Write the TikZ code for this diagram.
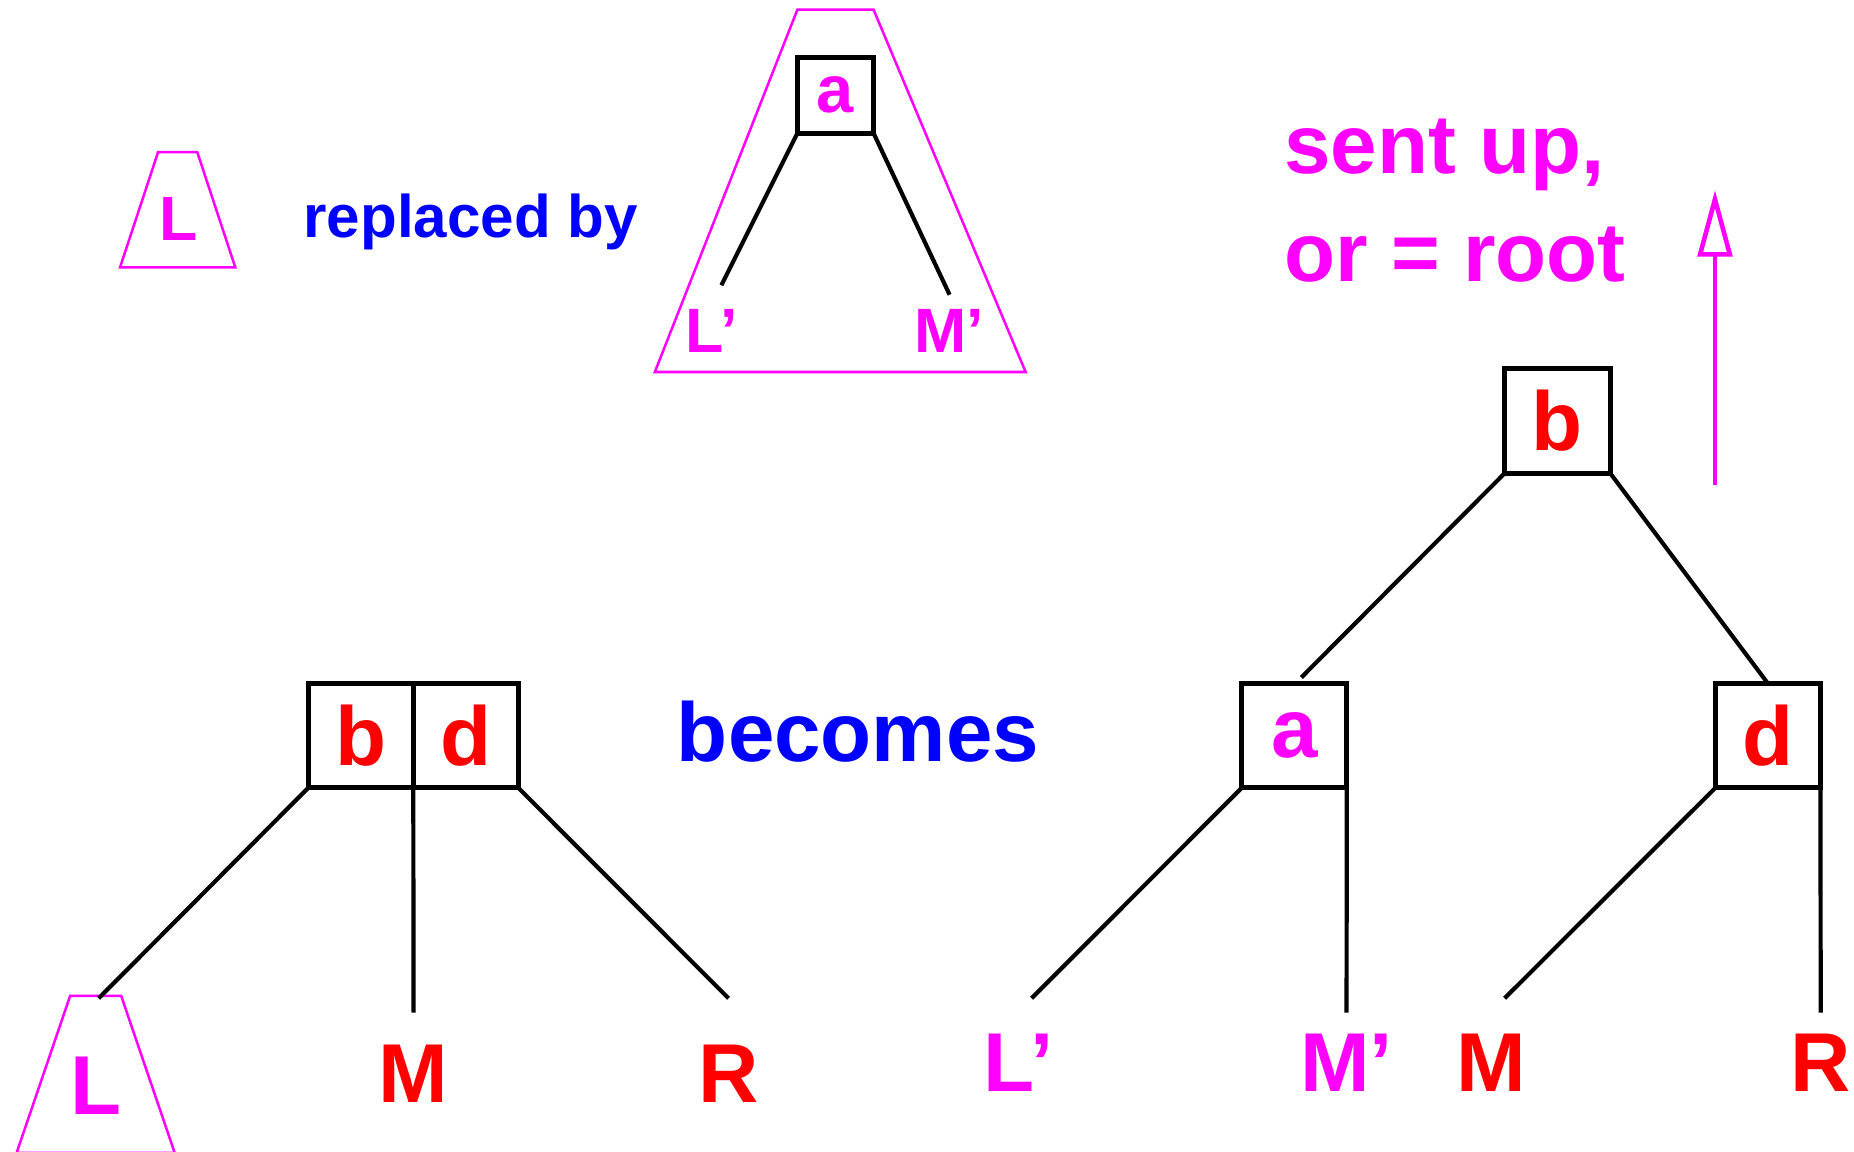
\documentclass[tikz,border=0pt]{standalone}
\usepackage{fontspec}
\setmainfont{Liberation Sans}
\usetikzlibrary{arrows.meta, positioning, calc}
\definecolor{mag}{RGB}{255,0,255}
\definecolor{keyred}{RGB}{255,0,0}
\definecolor{keyblue}{RGB}{0,0,255}

\begin{document}
\begin{tikzpicture}[
    x=0.1mm, y=-0.1mm,
    big/.style={font=\bfseries\fontsize{20}{24}\selectfont},
    key/.style={draw, line width=1.2pt, minimum width=0.885cm, minimum height=0.88cm, inner sep=0pt, outer sep=0pt, big},
    lbl/.style={inner sep=0pt, anchor=base, big},
    sml/.style={inner sep=0pt, anchor=base, text=mag, font=\bfseries\fontsize{15}{18}\selectfont},
    edge/.style={line width=1pt},
    subtree/.style={draw=mag, line width=0.6pt}
]
    \useasboundingbox (0,0) rectangle (1560,968.5);

    % Subtree L and its replacement
    \draw[subtree] (133,128) -- (166,128) -- (198,225) -- (101,225) -- cycle;
    \node[sml] (Ltop) at (150,202) {L};
    \node[inner sep=0pt, anchor=base, text=keyblue, font=\bfseries\fontsize{14.4}{17}\selectfont] (repl) at (396,200) {replaced by};

    \draw[subtree] (671,8) -- (735,8) -- (863,313) -- (551,313) -- cycle;
    \node[key, minimum width=0.64cm, minimum height=0.64cm, text=mag, font=\bfseries\fontsize{16}{19}\selectfont] (atop) at (703,80) {a};
    \node[sml] (Lptop) at (599,297) {L'};
    \node[sml] (Mptop) at (799,297) {M'};
    \coordinate (Lpend) at (607,240);
    \coordinate (Mpend) at (799,248);
    \draw[edge] (atop.south west) -- (Lpend);
    \draw[edge] (atop.south east) -- (Mpend);

    % Old node b|d
    \node[key, text=keyred] (b1) at (303.5,619) {b};
    \node[key, text=keyred, right=0pt of b1] (d1) {d};
    \draw[subtree] (59,838) -- (102,838) -- (147,970) -- (14,970) -- cycle;
    \node[lbl, text=mag] (Lbot) at (81,938) {L};
    \node[lbl, text=keyred] (M1) at (348,928) {M};
    \node[lbl, text=keyred] (R1) at (613,928) {R};
    \coordinate (L1end) at (83,840);
    \coordinate (M1end) at (348,852);
    \coordinate (R1end) at (613,840);
    \draw[edge] (b1.south west) -- (L1end);
    \draw[edge] (b1.south east) -- (M1end);
    \draw[edge] (d1.south east) -- (R1end);

    \node[lbl, text=keyblue] (becomes) at (722,641) {becomes};

    % New nodes after split
    \node[key, text=keyred] (b2) at (1310.5,354) {b};
    \node[key, text=mag] (a2) at (1089,619) {a};
    \node[key, text=keyred] (d2) at (1487.5,619) {d};
    \coordinate (baend) at (1095,570);
    \draw[edge] (b2.south west) -- (baend);
    \draw[edge] (b2.south east) -- (d2.north);

    \node[lbl, text=mag] (Lp2) at (857,918) {L'};
    \node[lbl, text=mag] (Mp2) at (1133,918) {M'};
    \node[lbl, text=keyred] (M2) at (1255,918) {M};
    \node[lbl, text=keyred] (R2) at (1532,918) {R};
    \coordinate (Lp2end) at (868,840);
    \coordinate (Mp2end) at (1133,852);
    \coordinate (M2end) at (1266,840);
    \coordinate (R2end) at (1532,852);
    \draw[edge] (a2.south west) -- (Lp2end);
    \draw[edge] (a2.south east) -- (Mp2end);
    \draw[edge] (d2.south west) -- (M2end);
    \draw[edge] (d2.south east) -- (R2end);

    % Sent up
    \node[anchor=base west, inner sep=0pt, align=left, text=mag, font=\bfseries\fontsize{20}{26}\selectfont] (sent) at (1080,237) {sent up,\\or = root};
    \coordinate (up0) at (1443,408);
    \coordinate (up1) at (1443,160);
    \draw[mag, line width=1.1pt, -{Triangle[open, length=5.6mm, width=2.9mm]}] (up0) -- (up1);

\end{tikzpicture}
\end{document}
